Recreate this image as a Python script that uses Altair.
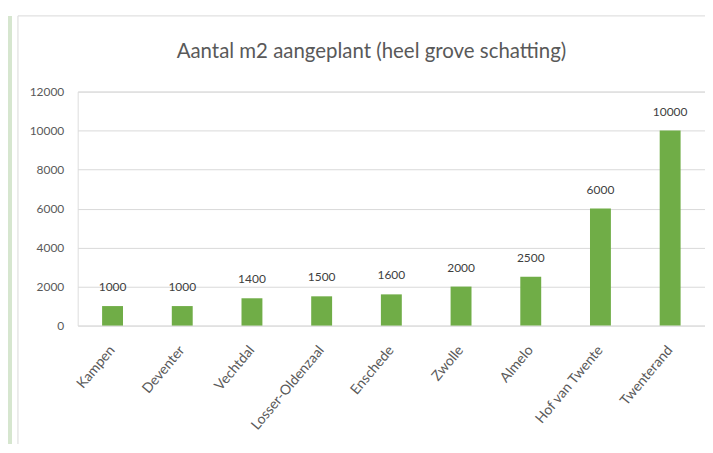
import altair as alt
import pandas as pd

categories = ["Kampen", "Deventer", "Vechtdal", "Losser-Oldenzaal", "Enschede",
              "Zwolle", "Almelo", "Hof van Twente", "Twenterand"]
values = [1000, 1000, 1400, 1500, 1600, 2000, 2500, 6000, 10000]
y_ticks = [0, 2000, 4000, 6000, 8000, 10000, 12000]
title_text = "Aantal m2 aangeplant (heel grove schatting)"

df = pd.DataFrame({"gemeente": categories, "m2": values})

FONT = "Lato"
GRAY = "#595959"

base = alt.Chart(df).encode(
    x=alt.X("gemeente:N", sort=categories, title=None,
            scale=alt.Scale(paddingInner=0.7, paddingOuter=0.35),
            axis=alt.Axis(labelAngle=-50, labelFontSize=14, labelColor=GRAY,
                          labelFont=FONT, domain=False, ticks=False, labelPadding=22,
                          labelOverlap=False)),
    y=alt.Y("m2:Q", title=None,
            scale=alt.Scale(domain=[0, 12000], nice=False),
            axis=alt.Axis(values=y_ticks, format="d", labelFontSize=12, labelColor=GRAY,
                          labelFont=FONT, domain=False, ticks=False, labelPadding=14,
                          labelOverlap=False, gridColor="#d9d9d9", gridWidth=1)),
)

bars = base.mark_bar(color="#70AD47")
labels = base.mark_text(dy=-19, fontSize=12, font=FONT, color="#404040").encode(text="m2:Q")

deco = alt.Data(values=[{}])
border = alt.Chart(deco).mark_rect(fill="white", fillOpacity=0, stroke="#d9d9d9",
                                   strokeWidth=1, clip=False).encode(
    x=alt.value(-60), x2=alt.value(660), y=alt.value(-76), y2=alt.value(400))
strip = alt.Chart(deco).mark_rect(color="#d6e6cf", clip=False).encode(
    x=alt.value(-70), x2=alt.value(-66), y=alt.value(-76), y2=alt.value(400))

chart = alt.layer(strip, border, bars, labels).properties(
    width=630, height=235,
    title=alt.TitleParams(title_text, fontSize=20.5, font=FONT, color=GRAY,
                          fontWeight="normal", dx=-20, dy=63, offset=0, frame="group",
                          anchor="middle", baseline="alphabetic"),
    autosize=alt.AutoSizeParams(type="none"),
    padding={"left": 70, "top": 83, "right": 0, "bottom": 118},
).configure_view(stroke=None).configure(background="white")

chart.save("out.html", embed_options={"renderer": "svg", "actions": False})
